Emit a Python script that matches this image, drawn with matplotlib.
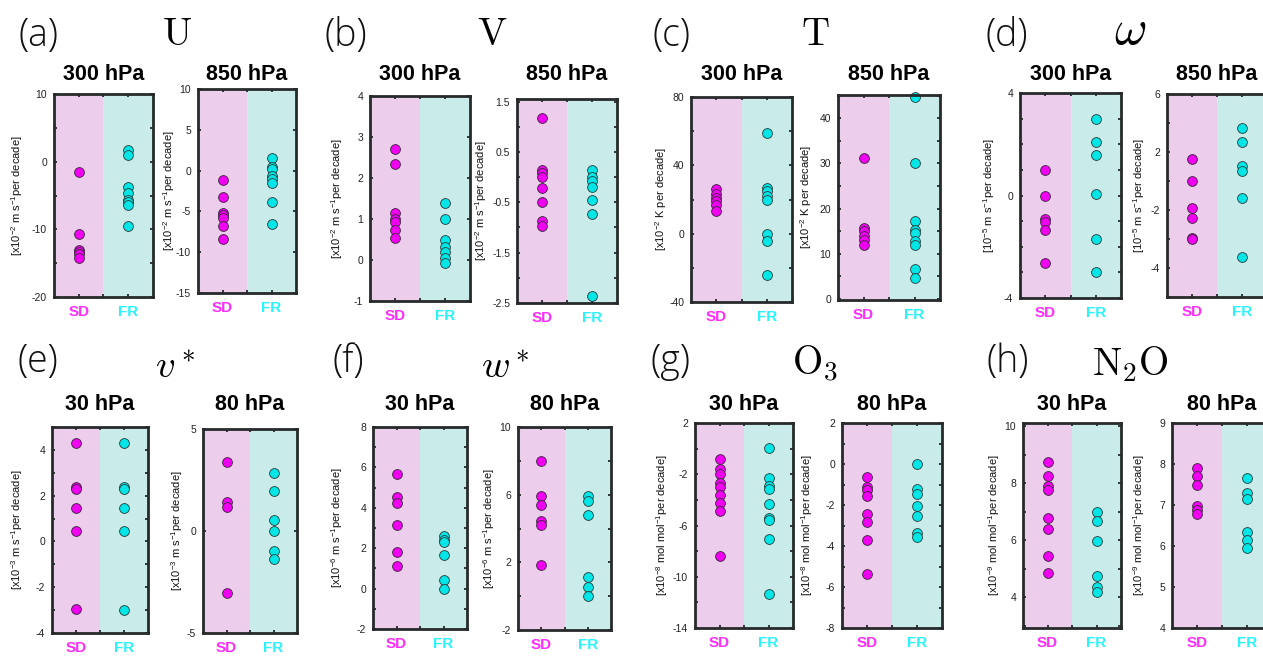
import matplotlib
matplotlib.use('Agg')
import matplotlib.pyplot as plt
import numpy as np

plt.rcParams['font.family'] = ['Liberation Sans', 'DejaVu Sans']
plt.rcParams['mathtext.fontset'] = 'custom'
plt.rcParams['mathtext.rm'] = 'Liberation Sans'
plt.rcParams['mathtext.it'] = 'Liberation Sans:italic'
plt.rcParams['mathtext.bf'] = 'Liberation Sans:bold'

# ---------------- data ----------------
categories = ['SD', 'FR']

u300_sd = [-1.5, -10.7, -13.0, -13.3, -13.6, -14.2]
u300_fr = [1.7, 1.0, -3.7, -4.6, -5.6, -6.0, -6.4, -9.5]
u850_sd = [-1.2, -3.2, -5.2, -5.5, -5.8, -6.8, -8.4]
u850_fr = [1.5, 0.4, 0.2, -0.7, -1.0, -1.5, -3.8, -6.5]

v300_sd = [2.7, 2.35, 1.15, 1.0, 0.92, 0.73, 0.53]
v300_fr = [1.38, 1.0, 0.48, 0.32, 0.2, 0.05, -0.08]
v850_sd = [1.17, 0.14, 0.08, 0.0, -0.22, -0.5, -0.88, -0.98]
v850_fr = [0.14, 0.0, -0.08, -0.2, -0.45, -0.74, -2.37]

t300_sd = [26, 23, 21, 19, 17, 13]
t300_fr = [59, 27, 25, 22, 19.5, 0, -4, -24]
t850_sd = [31.2, 15.7, 15.0, 14.0, 13.0, 12.0]
t850_fr = [44.8, 30, 17.3, 15.3, 14.5, 12.8, 12.0, 6.6, 4.6]

w300_sd = [1.0, 0.0, -0.9, -1.05, -1.35, -2.65]
w300_fr = [3.0, 2.1, 1.6, 0.05, -1.7, -3.0]
w850_sd = [1.52, 0.02, -1.88, -2.53, -3.9, -4.0]
w850_fr = [3.63, 2.67, 1.06, 0.69, -1.2, -5.22]

vs30_sd = [4.3, 2.4, 2.3, 1.47, 0.47, -2.97]
vs30_fr = [4.3, 2.4, 2.27, 1.47, 0.47, -3.0]
vs80_sd = [3.4, 1.4, 1.2, -3.05]
vs80_fr = [2.85, 1.95, 0.55, 0.02, -1.0, -1.35]

ws30_sd = [5.65, 4.55, 4.25, 3.15, 1.8, 1.13]
ws30_fr = [2.6, 2.42, 2.3, 1.67, 0.45, 0.0]
ws80_sd = [8.0, 5.9, 5.4, 4.45, 4.2, 1.82]
ws80_fr = [5.95, 5.65, 4.8, 1.15, 0.55, 0.02]

o330_sd = [-0.8, -1.6, -2.0, -2.65, -3.0, -3.6, -4.25, -4.85, -8.35]
o330_fr = [0.05, -2.3, -2.95, -3.15, -4.3, -5.45, -5.55, -7.05, -11.35]
o380_sd = [-0.65, -1.1, -1.25, -1.55, -2.45, -2.85, -3.72, -5.35]
o380_fr = [0.0, -1.2, -1.45, -2.05, -2.55, -3.35, -3.55]

n2o30_sd = [8.75, 8.25, 7.9, 7.75, 6.8, 6.4, 5.45, 4.85]
n2o30_fr = [7.0, 6.67, 5.96, 4.76, 4.35, 4.2]
n2o80_sd = [7.9, 7.7, 7.5, 6.98, 6.88, 6.78]
n2o80_fr = [7.65, 7.3, 7.15, 6.33, 6.15, 5.95]

panel_letters = ['(a)', '(b)', '(c)', '(d)', '(e)', '(f)', '(g)', '(h)']
variable_names = [r'$\mathrm{U}$', r'$\mathrm{V}$', r'$\mathrm{T}$', r'$\omega$',
                  r'$v^*$', r'$w^*$', r'$\mathrm{O}_3$', r'$\mathrm{N}_2\mathrm{O}$']
level_titles = ['300 hPa', '850 hPa', '300 hPa', '850 hPa', '300 hPa', '850 hPa', '300 hPa', '850 hPa',
                '30 hPa', '80 hPa', '30 hPa', '80 hPa', '30 hPa', '80 hPa', '30 hPa', '80 hPa']
unit_labels = [r'[x10$^{-2}$ m s$^{-1}$per decade]', r'[x10$^{-2}$ m s$^{-1}$per decade]',
               r'[x10$^{-2}$ K per decade]', r'[10$^{-5}$ m s$^{-1}$per decade]',
               r'[x10$^{-3}$ m s$^{-1}$per decade]', r'[x10$^{-6}$ m s$^{-1}$per decade]',
               r'[x10$^{-8}$ mol mol$^{-1}$per decade]', r'[x10$^{-9}$ mol mol$^{-1}$per decade]']

# y-axis: limits, tick positions, tick labels
y_axes = [
    ((-20, 10), [-20, -15, -10, -5, 0, 5, 10], ['-20', '', '-10', '', '0', '', '10']),
    ((-15, 10), [-15, -10, -5, 0, 5, 10], ['-15', '-10', '-5', '0', '5', '10']),
    ((-1, 4), [-1, 0, 1, 2, 3, 4], ['-1', '0', '1', '2', '3', '4']),
    ((-2.5, 1.55), [-2.5, -2, -1.5, -1, -0.5, 0, 0.5, 1, 1.5], ['-2.5', '', '-1.5', '', '-0.5', '', '0.5', '', '1.5']),
    ((-40, 80), [-40, -20, 0, 20, 40, 60, 80], ['-40', '', '0', '', '40', '', '80']),
    ((-0.3, 45.2), [0, 5, 10, 15, 20, 25, 30, 35, 40, 45], ['0', '', '10', '', '20', '', '30', '', '40', '']),
    ((-4, 4), [-4, -3, -2, -1, 0, 1, 2, 3, 4], ['-4', '', '', '', '0', '', '', '', '4']),
    ((-8, 6), [-8, -6, -4, -2, 0, 2, 4, 6], ['', '-4', '', '-2', '', '2', '', '6']),
    ((-4, 5), [-4, -3, -2, -1, 0, 1, 2, 3, 4, 5], ['-4', '', '-2', '', '0', '', '2', '', '4', '']),
    ((-5, 5), [-5, 0, 5], ['-5', '0', '5']),
    ((-2, 8), [-2, -1, 0, 1, 2, 3, 4, 5, 6, 7, 8], ['-2', '', '0', '', '2', '', '4', '', '6', '', '8']),
    ((-2, 10), [-2, 0, 2, 4, 6, 8, 10], ['-2', '', '2', '', '6', '', '10']),
    ((-14, 2), [-14, -12, -10, -8, -6, -4, -2, 0, 2], ['-14', '', '-10', '', '-6', '', '-2', '', '2']),
    ((-8, 2), [-8, -7, -6, -5, -4, -3, -2, -1, 0, 1, 2], ['-8', '', '-6', '', '-4', '', '-2', '', '0', '', '2']),
    ((2.92, 10.12), [3, 4, 5, 6, 7, 8, 9, 10], ['', '4', '', '6', '', '8', '', '10']),
    ((4, 9), [4, 5, 6, 7, 8, 9], ['4', '5', '6', '7', '8', '9']),
]

series = [
    (u300_sd, u300_fr), (u850_sd, u850_fr), (v300_sd, v300_fr), (v850_sd, v850_fr),
    (t300_sd, t300_fr), (t850_sd, t850_fr), (w300_sd, w300_fr), (w850_sd, w850_fr),
    (vs30_sd, vs30_fr), (vs80_sd, vs80_fr), (ws30_sd, ws30_fr), (ws80_sd, ws80_fr),
    (o330_sd, o330_fr), (o380_sd, o380_fr), (n2o30_sd, n2o30_fr), (n2o80_sd, n2o80_fr),
]

# ---------------- layout (pixels: left, top, right, bottom) ----------------
W, H = 1263, 657
rects = [
    (54, 94, 153, 297), (198, 89, 296, 293), (370, 96, 470, 301), (517, 99, 617, 303),
    (691, 97, 792, 302), (838, 95, 940, 300), (1020, 93, 1121, 298), (1167, 94, 1267, 297),
    (52, 427, 148, 633), (203, 429, 297, 633), (373, 427, 467, 629), (518, 427, 611, 630),
    (695, 423, 793, 628), (842, 423, 942, 628), (1023, 423, 1121, 628), (1172, 423, 1272, 628),
]
# gap (px) between y-label right edge and the axes' left edge
label_gap = [29, 21, 25, 28, 22, 24, 23, 20, 27, 18, 28, 21, 25, 27, 21, 25]
letter_pos = [(38, 36), (346, 36), (672, 36), (1007, 36), (38, 362), (348, 362), (670, 362), (1008, 362)]
name_pos = [(177, 35), (492, 35), (815, 35), (1130, 31), (175, 368), (505, 368), (815, 364), (1130, 364)]
name_size = [28, 28, 28, 36, 28, 28, 28, 28]

PINK_BG = '#ECCEEC'
CYAN_BG = '#C9ECEA'
SD_COL = '#F000F0'
FR_COL = '#00E6E6'
SD_TXT = '#FF2BFF'
FR_TXT = '#2BF2FF'
FRAME = '#262a2a'

fig = plt.figure(figsize=(W / 100, H / 100), dpi=100)

for i, (rect, (sd, fr), (ylim, yt, ytl)) in enumerate(zip(rects, series, y_axes)):
    l, t, r, b = rect
    ax = fig.add_axes([l / W, 1 - b / H, (r - l) / W, (b - t) / H])
    ax.axvspan(0.5, 1.5, color=PINK_BG, zorder=0, lw=0)
    ax.axvspan(1.5, 2.5, color=CYAN_BG, zorder=0, lw=0)
    ax.scatter(np.full(len(sd), 1.0), sd, s=50, color=SD_COL, edgecolor='#3a2a3a',
               linewidth=0.6, zorder=3, clip_on=False)
    ax.scatter(np.full(len(fr), 2.0), fr, s=50, color=FR_COL, edgecolor='#2a3a3a',
               linewidth=0.6, zorder=3, clip_on=False)
    ax.set_xlim(0.5, 2.5)
    ax.set_ylim(*ylim)
    ax.set_yticks(yt)
    ax.set_yticklabels(ytl)
    ax.set_xticks([1, 1.5, 2])
    ax.set_xticklabels([categories[0], '', categories[1]])
    for lab, col in zip(ax.get_xticklabels(), [SD_TXT, FR_TXT, FR_TXT]):
        lab.set_color(col)
        lab.set_fontweight('bold')
        lab.set_fontsize(11)
    ax.tick_params(axis='x', direction='in', top=True, bottom=True, length=2.5, width=1.3,
                   color=FRAME, pad=6)
    ax.tick_params(axis='y', direction='in', left=True, right=True, length=2.5, width=1.3,
                   color=FRAME, labelsize=7.5, labelcolor='#222222', pad=5)
    for sp in ax.spines.values():
        sp.set_linewidth(2.0)
        sp.set_color(FRAME)
        sp.set_zorder(4)
    ax.set_ylabel(unit_labels[i // 2], fontsize=8, color='#111111')
    ax.yaxis.set_label_coords(-label_gap[i] / (r - l), 0.5)
    row_title_y = 75 if i < 8 else 404
    fig.text((l + r) / 2 / W, 1 - row_title_y / H, level_titles[i], ha='center', va='center',
             fontsize=15.5, fontweight='bold', color='black')

for k in range(8):
    x, y = letter_pos[k]
    fig.text(x / W, 1 - y / H, panel_letters[k], ha='center', va='center', fontsize=27,
             family=['Open Sans', 'DejaVu Sans'], fontweight='light', color='#111111')
    x, y = name_pos[k]
    fig.text(x / W, 1 - y / H, variable_names[k], ha='center', va='center', fontsize=name_size[k],
             math_fontfamily='cm', color='black')

fig.savefig('out.png', dpi=100)
